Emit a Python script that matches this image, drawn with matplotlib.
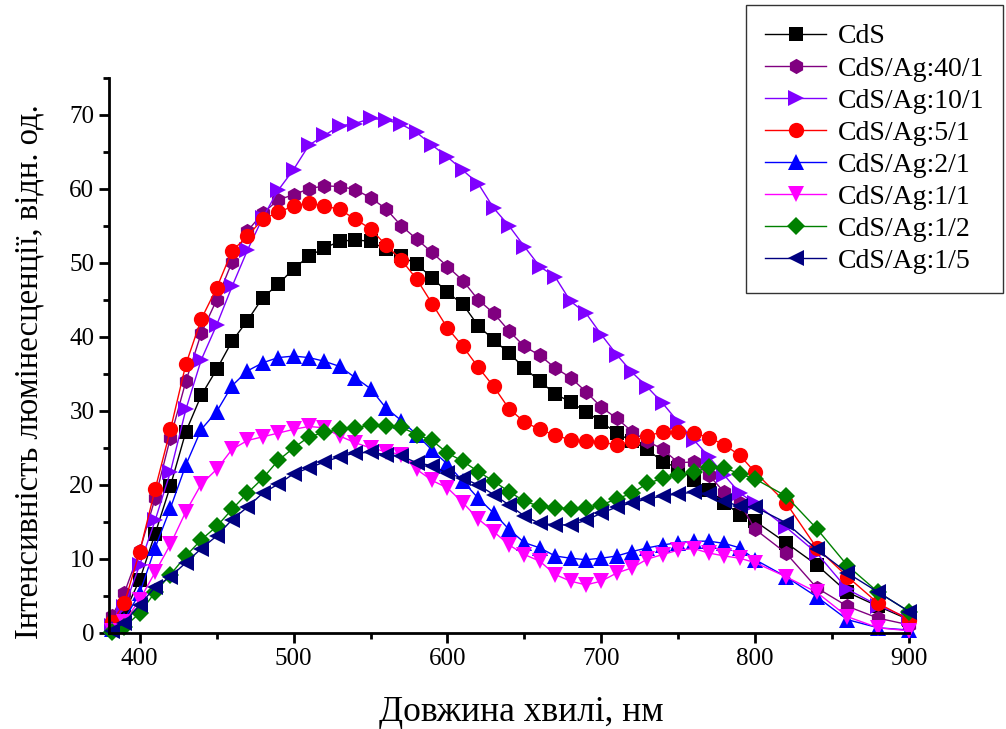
import matplotlib
matplotlib.use("Agg")
import matplotlib.pyplot as plt
from matplotlib.ticker import MultipleLocator

# wavelength, nm
wl = [382, 390, 400, 410, 420, 430, 440, 450, 460, 470, 480, 490, 500, 510, 520,
      530, 540, 550, 560, 570, 580, 590, 600, 610, 620, 630, 640, 650, 660, 670,
      680, 690, 700, 710, 720, 730, 740, 750, 760, 770, 780, 790, 800,
      820, 840, 860, 880, 900]

cds = [0.8, 2.7, 7.2, 13.4, 19.9, 27.2, 32.1, 35.6, 39.4, 42.2, 45.3, 47.1, 49.2, 50.9, 52.0,
       52.9, 53.1, 52.9, 51.8, 50.9, 49.8, 48.0, 46.0, 44.4, 41.5, 39.6, 37.8, 35.8, 34.0, 32.3,
       31.2, 29.9, 28.5, 27.0, 25.9, 24.8, 23.1, 22.3, 20.7, 19.3, 17.6, 16.0, 15.1,
       12.2, 9.2, 5.5, 3.6, 1.8]

ag_40_1 = [2.3, 5.4, 11.1, 18.2, 26.4, 34.0, 40.5, 45.0, 50.1, 54.3, 56.7, 58.5, 59.2, 60.0, 60.4,
           60.3, 59.9, 58.8, 57.3, 55.0, 53.2, 51.4, 49.5, 47.6, 45.0, 43.2, 40.8, 38.7, 37.5, 35.8,
           34.5, 32.6, 30.5, 29.0, 27.2, 25.9, 24.8, 23.0, 23.1, 21.3, 19.0, 17.6, 14.0,
           10.8, 6.1, 3.6, 2.0, 1.1]

ag_10_1 = [1.0, 3.5, 9.2, 15.2, 21.8, 30.2, 36.9, 41.6, 46.8, 51.7, 56.1, 59.8, 62.6, 65.9, 67.2,
           68.5, 68.8, 69.5, 69.3, 68.7, 67.6, 65.9, 64.3, 62.5, 60.7, 57.4, 55.0, 52.2, 49.5, 48.1,
           44.8, 43.2, 40.3, 37.6, 35.2, 33.2, 31.0, 28.5, 26.1, 23.8, 21.3, 18.9, 17.5,
           14.3, 10.8, 5.9, 3.7, 2.0]

ag_5_1 = [1.5, 4.0, 11.0, 19.4, 27.5, 36.3, 42.4, 46.6, 51.6, 53.6, 55.9, 56.8, 57.7, 58.1, 57.7,
          57.2, 55.9, 54.6, 52.4, 50.4, 47.8, 44.5, 41.2, 38.7, 35.9, 33.3, 30.3, 28.5, 27.5, 26.7,
          26.1, 25.9, 25.8, 25.4, 25.9, 26.6, 27.2, 27.1, 27.0, 26.4, 25.4, 24.0, 21.7,
          17.6, 11.5, 7.6, 4.0, 1.8]

ag_2_1 = [0.5, 1.8, 5.4, 11.5, 16.9, 22.7, 27.5, 29.9, 33.4, 35.4, 36.5, 37.2, 37.4, 37.2, 36.7,
          36.0, 34.5, 33.0, 30.4, 28.7, 26.8, 24.7, 22.8, 20.5, 18.2, 16.2, 14.0, 12.2, 11.5, 10.4,
          10.1, 9.9, 10.1, 10.4, 11.0, 11.5, 11.9, 12.2, 12.4, 12.4, 12.1, 11.5, 9.9,
          7.6, 4.9, 1.8, 0.7, 0.4]

ag_1_1 = [0.3, 1.5, 4.5, 8.2, 12.0, 16.4, 20.1, 22.1, 24.8, 26.0, 26.5, 27.0, 27.5, 27.9, 27.7,
          26.6, 25.7, 25.0, 24.5, 24.1, 22.1, 20.6, 19.6, 17.6, 15.4, 13.7, 11.9, 10.6, 9.7, 7.9,
          7.0, 6.5, 7.0, 8.1, 8.8, 10.0, 10.6, 11.2, 11.4, 10.8, 10.4, 10.1, 9.5,
          7.6, 5.5, 2.2, 0.7, 0.3]

ag_1_2 = [0.2, 0.8, 2.7, 5.5, 7.9, 10.4, 12.6, 14.4, 16.7, 18.9, 20.9, 23.3, 25.0, 26.5, 27.1,
          27.5, 27.7, 28.1, 28.0, 27.8, 26.8, 26.0, 24.3, 23.2, 21.8, 20.5, 19.1, 17.8, 17.1, 16.9,
          16.8, 16.9, 17.3, 18.1, 18.9, 20.2, 20.9, 21.4, 21.7, 22.4, 22.3, 21.5, 20.8,
          18.5, 14.1, 9.1, 5.5, 2.9]

ag_1_5 = [0.3, 1.4, 3.8, 6.2, 7.6, 9.5, 11.4, 13.1, 15.3, 17.0, 18.9, 20.1, 21.5, 22.3, 23.1,
          23.8, 24.3, 24.4, 24.1, 23.9, 23.0, 22.6, 21.6, 20.9, 20.0, 18.7, 17.3, 15.8, 14.8, 14.6,
          14.6, 15.2, 16.2, 17.0, 17.6, 18.1, 18.5, 18.8, 19.0, 18.8, 17.8, 17.1, 17.0,
          14.9, 11.3, 8.1, 5.5, 2.9]

labels = ['CdS', 'CdS/Ag:40/1', 'CdS/Ag:10/1', 'CdS/Ag:5/1',
          'CdS/Ag:2/1', 'CdS/Ag:1/1', 'CdS/Ag:1/2', 'CdS/Ag:1/5']
series = [cds, ag_40_1, ag_10_1, ag_5_1, ag_2_1, ag_1_1, ag_1_2, ag_1_5]
colors = ['#000000', '#800080', '#8000FF', '#FF0000',
          '#0000FF', '#FF00FF', '#008000', '#000080']
markers = ['s', 'h', '>', 'o', '^', 'v', 'D', '<']
msizes = [10, 11, 11, 11, 11, 11, 9, 11]

plt.rcParams['font.family'] = ['Liberation Serif', 'DejaVu Serif']

fig = plt.figure(figsize=(10.06, 7.29), dpi=100)
ax = fig.add_axes([0.1083, 0.1317, 0.7953, 0.7617])

for y, lab, c, m, ms in zip(series, labels, colors, markers, msizes):
    ax.plot(wl, y, color=c, marker=m, markersize=ms, linewidth=1,
            markeredgewidth=0, label=lab, clip_on=False)

ax.set_xlim(380, 900)
ax.set_ylim(0, 75)
ax.xaxis.set_major_locator(MultipleLocator(100))
ax.xaxis.set_minor_locator(MultipleLocator(50))
ax.yaxis.set_major_locator(MultipleLocator(10))
ax.yaxis.set_minor_locator(MultipleLocator(5))

ax.spines['top'].set_visible(False)
ax.spines['right'].set_visible(False)
for s in ['left', 'bottom']:
    ax.spines[s].set_linewidth(2)

ax.tick_params(which='major', direction='out', length=7, width=2, labelsize=18)
ax.tick_params(which='minor', direction='out', length=4, width=2)

ax.set_xlabel('Довжина хвилі, нм', fontsize=25.5)
ax.set_ylabel('Інтенсивність люмінесценції, відн. од.', fontsize=23.5)
ax.xaxis.set_label_coords(0.516, -0.144)
ax.yaxis.set_label_coords(-0.099, 0.47)
ax.xaxis.label.set_va('center')
ax.yaxis.label.set_va('center')

leg = ax.legend(loc='upper right', bbox_to_anchor=(0.997, 0.993),
                bbox_transform=fig.transFigure, borderaxespad=0,
                fontsize=20, frameon=True, fancybox=False, edgecolor='black',
                handlelength=2.2, labelspacing=0.24, borderpad=0.68,
                handletextpad=0.4)
leg.get_frame().set_linewidth(1)

fig.savefig('out.png', dpi=100)
